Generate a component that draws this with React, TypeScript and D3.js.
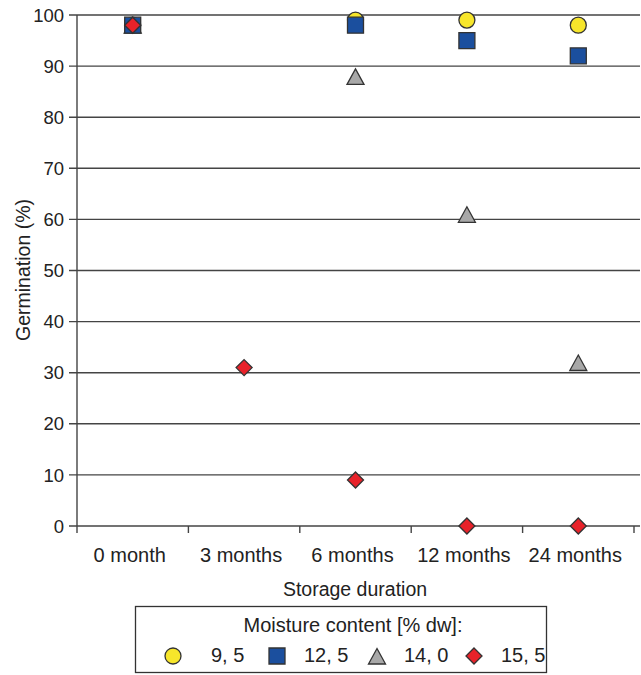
import React from "react";
import * as d3 from "d3";

const categories = ["0 month", "3 months", "6 months", "12 months", "24 months"];
const seriesNames = ["9, 5", "12, 5", "14, 0", "15, 5"];
const s95: (number | null)[] = [98, null, 99, 99, 98];
const s125: (number | null)[] = [98, null, 98, 95, 92];
const s140: (number | null)[] = [98, null, 88, 61, 32];
const s155: (number | null)[] = [98, 31, 9, 0, 0];
const yTicks = [0, 10, 20, 30, 40, 50, 60, 70, 80, 90, 100];

const colors = ["#f7e62b", "#1b4f9e", "#a8a8a8", "#e8222a"];
const drawOrder = [0, 2, 1, 3];
const FONT = "'Liberation Sans', Arial, Helvetica, sans-serif";

function shapePath(i: number): string {
  const p = d3.path();
  if (i === 0) {
    p.arc(0, 0, 8, 0, Math.PI * 2);
  } else if (i === 1) {
    p.rect(-8, -8, 16, 16);
  } else if (i === 2) {
    p.moveTo(0, -7.5);
    p.lineTo(8.5, 8);
    p.lineTo(-8.5, 8);
    p.closePath();
  } else {
    p.moveTo(0, -8);
    p.lineTo(8, 0);
    p.lineTo(0, 8);
    p.lineTo(-8, 0);
    p.closePath();
  }
  return p.toString();
}

function Marker({ i, x, y }: { i: number; x: number; y: number }) {
  return (
    <path
      d={shapePath(i)}
      transform={`translate(${x},${y})`}
      fill={colors[i]}
      stroke="#333"
      strokeWidth={1.3}
      strokeLinejoin="miter"
    />
  );
}

export default function App() {
  const W = 641, H = 675;
  const x = d3.scaleBand().domain(categories).range([77, 634]);
  const y = d3.scaleLinear().domain([0, 100]).range([526, 15]);
  const series = [s95, s125, s140, s155];
  return (
    <svg width={W} height={H} style={{ position: "absolute", left: 0, top: 0 }} fontFamily={FONT}>
      <rect width={W} height={H} fill="#fff" />
      {yTicks.map((t) => (
        <g key={t}>
          <line x1={69} x2={640} y1={y(t)} y2={y(t)} stroke="#444" strokeWidth={1.4} />
          <text x={64} y={y(t)} dy="0.36em" textAnchor="end" fontSize={18.5} fill="#222">
            {t}
          </text>
        </g>
      ))}
      <line x1={77} x2={77} y1={15} y2={533} stroke="#444" strokeWidth={1.4} />
      {categories.map((c) => (
        <g key={c}>
          <line x1={x(c)! + x.bandwidth()} x2={x(c)! + x.bandwidth()} y1={526} y2={533} stroke="#444" strokeWidth={1.4} />
          <text x={x(c)! + x.bandwidth() / 2 - 3} y={562} textAnchor="middle" fontSize={20} fill="#222">
            {c}
          </text>
        </g>
      ))}
      <text x={355} y={596} textAnchor="middle" fontSize={19.5} fill="#222">
        Storage duration
      </text>
      <text transform="translate(30,270) rotate(-90)" textAnchor="middle" fontSize={19.5} fill="#222">
        Germination (%)
      </text>
      {drawOrder.map((si) =>
        series[si].map((v, ci) =>
          v === null ? null : (
            <Marker key={`${si}-${ci}`} i={si} x={x(categories[ci])! + x.bandwidth() / 2} y={y(v)} />
          )
        )
      )}
      <rect x={135.5} y={606.5} width={411} height={66} fill="#fff" stroke="#333" strokeWidth={1.3} />
      <text x={353} y={632} textAnchor="middle" fontSize={20} fill="#222">
        Moisture content [% dw]:
      </text>
      {seriesNames.map((n, i) => {
        const mx = [173, 277, 377, 474][i];
        const tx = [211, 304, 404, 501][i];
        return (
          <g key={n}>
            <Marker i={i} x={mx} y={656} />
            <text x={tx} y={662} fontSize={20} fill="#222">
              {n}
            </text>
          </g>
        );
      })}
    </svg>
  );
}
